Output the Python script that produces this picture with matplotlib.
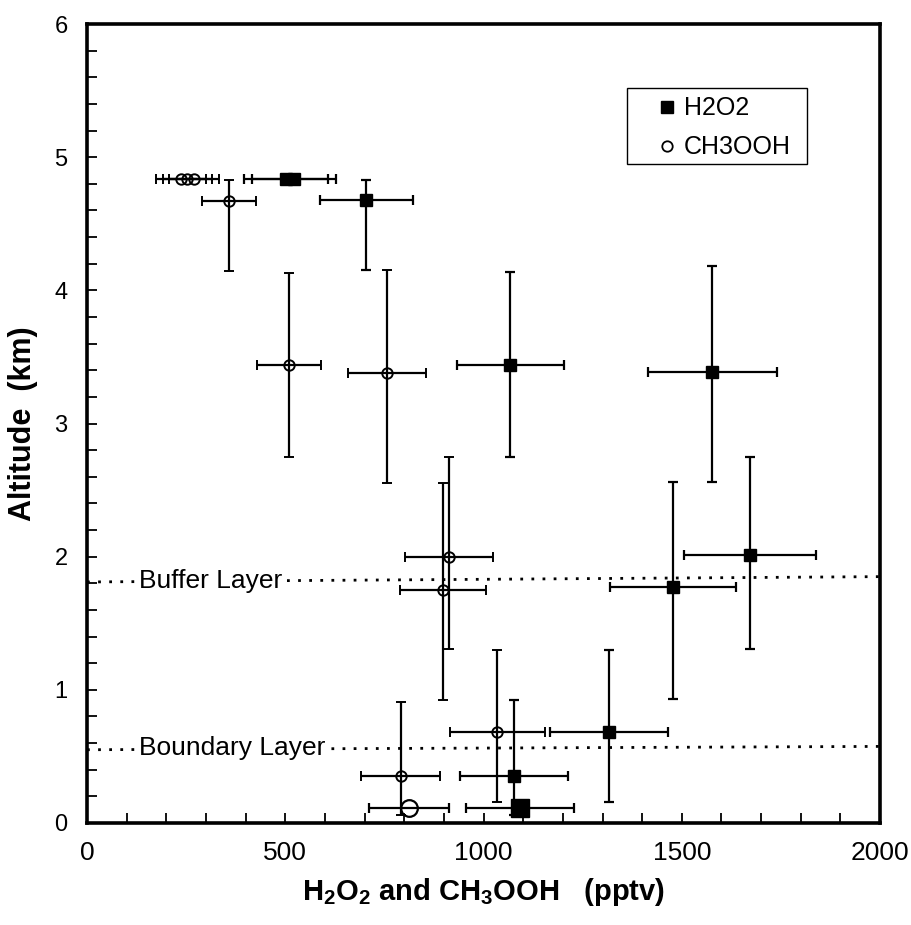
import matplotlib
matplotlib.use("Agg")
import matplotlib.pyplot as plt
from matplotlib.lines import Line2D
from matplotlib.patches import Rectangle

plt.rcParams['font.family'] = ['Liberation Sans', 'DejaVu Sans']
plt.rcParams['mathtext.fontset'] = 'custom'
plt.rcParams['mathtext.rm'] = 'Liberation Sans'
plt.rcParams['mathtext.bf'] = 'Liberation Sans:bold'

# H2O2 profile: mixing ratio (pptv), altitude (km), error bars
h2o2_x = [502, 523, 704, 1067, 1577, 1672, 1478, 1317, 1077]
h2o2_alt = [4.84, 4.84, 4.68, 3.44, 3.39, 2.01, 1.77, 0.68, 0.35]
h2o2_xerr = [106, 106, 117, 135, 162, 166, 158, 149, 137]
h2o2_alt_lo = [0, 0, 0.53, 0.69, 0.83, 0.70, 0.84, 0.52, 0.29]
h2o2_alt_hi = [0, 0, 0.15, 0.70, 0.79, 0.74, 0.79, 0.62, 0.57]

# CH3OOH profile
ch3ooh_x = [237, 253, 270, 358, 509, 756, 913, 898, 1035, 791]
ch3ooh_alt = [4.84, 4.84, 4.84, 4.67, 3.44, 3.38, 2.00, 1.75, 0.68, 0.35]
ch3ooh_xerr = [62, 62, 62, 69, 80, 98, 110, 108, 119, 100]
ch3ooh_alt_lo = [0, 0, 0, 0.525, 0.69, 0.83, 0.69, 0.83, 0.52, 0.29]
ch3ooh_alt_hi = [0, 0, 0, 0.16, 0.69, 0.77, 0.75, 0.80, 0.62, 0.56]

# surface site values (big symbols)
sfc_h2o2_x = [1092]
sfc_ch3ooh_x = [813]
sfc_alt = [0.11]
sfc_h2o2_xerr = [136]
sfc_ch3ooh_xerr = [101]

# layer tops at x=0 and x=2000
layer_x = [0, 2000]
buffer_alt = [1.81, 1.85]
boundary_alt = [0.55, 0.575]

fig = plt.figure(figsize=(9.12, 9.25), dpi=100)
ax = fig.add_axes([0.0954, 0.1103, 0.8696, 0.8637])

eb = dict(color='k', elinewidth=1.6, capsize=3.5, capthick=1.6, ls='none', zorder=3)

ax.errorbar(h2o2_x, h2o2_alt, xerr=h2o2_xerr, yerr=[h2o2_alt_lo, h2o2_alt_hi],
            marker='s', markersize=8, mfc='k', mec='k', **eb)
ax.errorbar(ch3ooh_x, ch3ooh_alt, xerr=ch3ooh_xerr, yerr=[ch3ooh_alt_lo, ch3ooh_alt_hi],
            marker='o', markersize=7.5, mfc='none', mec='k', mew=1.4, **eb)
ax.errorbar(sfc_h2o2_x, sfc_alt, xerr=sfc_h2o2_xerr,
            marker='s', markersize=13, mfc='k', mec='k', **eb)
ax.errorbar(sfc_ch3ooh_x, sfc_alt, xerr=sfc_ch3ooh_xerr,
            marker='o', markersize=12, mfc='none', mec='k', mew=1.6, **eb)

# layer lines
for alt, name in [(buffer_alt, 'Buffer Layer'), (boundary_alt, 'Boundary Layer')]:
    ax.plot(layer_x, alt, color='k', lw=2.0, ls=(0, (1, 3)), zorder=1)
    ax.text(131, alt[0] + 0.01, name, fontsize=19, va='center', ha='left', zorder=2,
            bbox=dict(facecolor='white', edgecolor='none', pad=3))

ax.set_xlim(0, 2000)
ax.set_ylim(0, 6)
ax.set_xticks([0, 500, 1000, 1500, 2000])
ax.set_xticks(range(0, 2001, 100), minor=True)
ax.set_yticks(range(0, 7))
ax.set_yticks([i * 0.2 for i in range(31)], minor=True)
ax.tick_params(which='both', direction='in', length=7, width=1.3, top=False, right=False)
ax.tick_params(axis='x', pad=13, labelsize=19)
ax.tick_params(axis='y', pad=14, labelsize=17)
for s in ax.spines.values():
    s.set_linewidth(2.6)

ax.set_xlabel('H$_\\mathbf{2}$O$_\\mathbf{2}$ and CH$_\\mathbf{3}$OOH   (pptv)',
              fontsize=21, fontweight='bold', labelpad=8)
ax.set_ylabel('Altitude  (km)', fontsize=22, fontweight='bold', labelpad=12)

# legend: wide, flat box like the original
box = Rectangle((0.681, 0.8246), 0.227, 0.0952, transform=ax.transAxes,
                facecolor='white', edgecolor='k', lw=1.0, zorder=4)
ax.add_patch(box)
handles = [Line2D([], [], ls='none', marker='s', color='k', markersize=9),
           Line2D([], [], ls='none', marker='o', mfc='none', mec='k', mew=1.3, markersize=7.5)]
leg = ax.legend(handles, ['H2O2', 'CH3OOH'], loc='center', bbox_to_anchor=(0.803, 0.870),
                fontsize=18, frameon=False, handlelength=0.8,
                handletextpad=0.3, labelspacing=0.6, borderpad=0, borderaxespad=0)
leg.set_zorder(5)

fig.savefig('out.png', dpi=100)
